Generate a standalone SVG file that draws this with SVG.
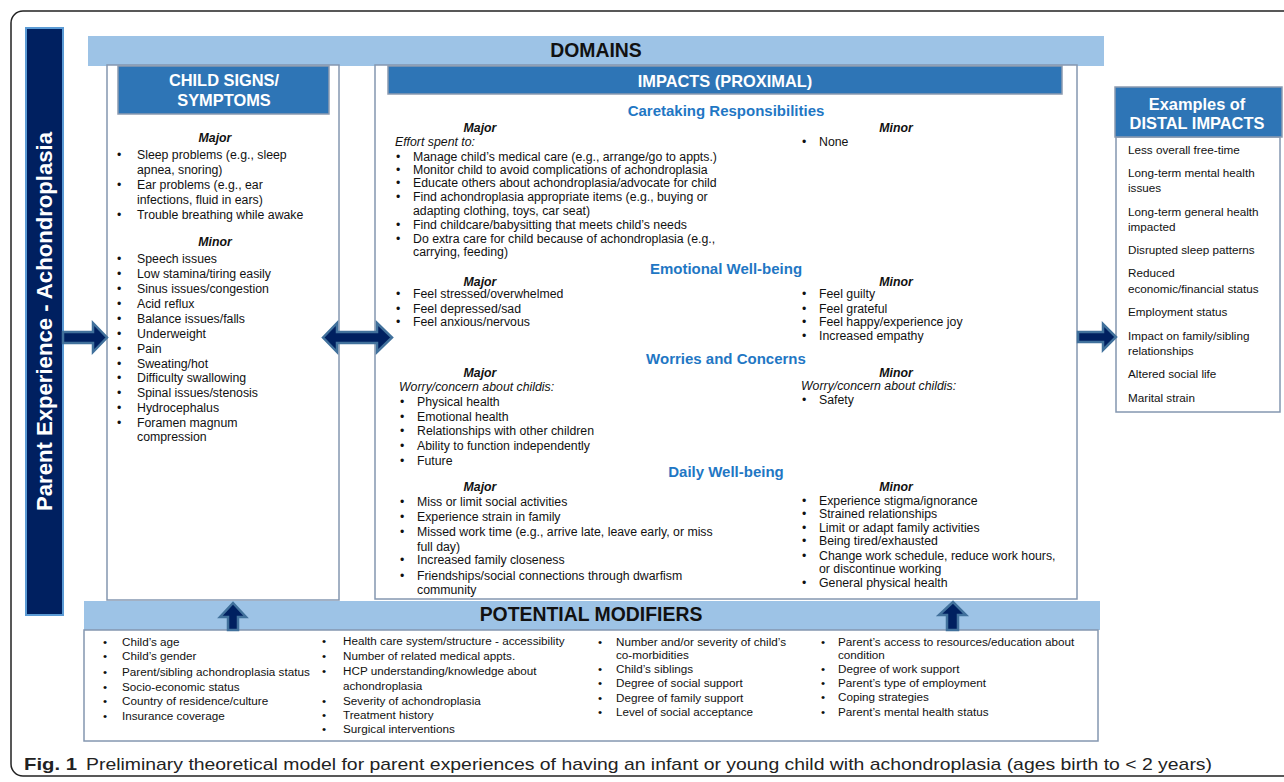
<svg xmlns="http://www.w3.org/2000/svg" width="1284" height="782" viewBox="0 0 1284 782">
<style>
text{font-family:"Liberation Sans",Arial,sans-serif;fill:#111}
.t{font-size:12.3px}
.s{font-size:11.7px}
.mj{font-size:12.3px;font-weight:bold;font-style:italic;text-anchor:middle}
.it{font-size:12.3px;font-style:italic}
.sec{font-size:15px;font-weight:bold;fill:#1f77c4;text-anchor:middle}
.hd{font-size:16.4px;font-weight:bold;fill:#fff;text-anchor:middle}
.big{font-size:19.4px;font-weight:bold;text-anchor:middle}
.box{fill:#fff;stroke:#8497b0;stroke-width:1.5}
.hbox{fill:#2e75b6;stroke:#8c9bb0;stroke-width:1.5}
.bar{fill:#9dc3e6}
.arr{fill:#002060;stroke:#41719c;stroke-width:2.5;stroke-linejoin:miter}
</style>
<rect width="1284" height="782" fill="#fff"/>
<path d="M1290 11 H23 A12 12 0 0 0 11 23 V764 A12 12 0 0 0 23 776 H1290" fill="none" stroke="#222" stroke-width="1.5"/>

<g id="parent-experience">
<rect x="26" y="28" width="37" height="587" fill="#002060" stroke="#5b9bd5" stroke-width="2"/>
<text transform="translate(52,321.5) rotate(-90)" text-anchor="middle" style="font-size:22px;font-weight:bold;fill:#fff" textLength="379" lengthAdjust="spacingAndGlyphs">Parent Experience - Achondroplasia</text>
</g>

<g id="domains">
<rect class="bar" x="88" y="36" width="1016" height="30"/>
<text class="big" x="596" y="57">DOMAINS</text>
</g>

<g id="child-signs">
<rect class="box" x="107" y="65" width="232" height="535"/>
<rect class="hbox" x="118" y="66" width="211" height="48"/>
<text class="hd" x="224" y="86">CHILD SIGNS/</text>
<text class="hd" x="224" y="106">SYMPTOMS</text>
<text class="mj" x="215" y="142">Major</text>
<g class="t">
<text x="117" y="159">•</text><text x="137" y="159">Sleep problems (e.g., sleep</text>
<text x="137" y="174">apnea, snoring)</text>
<text x="117" y="189">•</text><text x="137" y="189">Ear problems (e.g., ear</text>
<text x="137" y="204">infections, fluid in ears)</text>
<text x="117" y="219">•</text><text x="137" y="219">Trouble breathing while awake</text>
</g>
<text class="mj" x="215" y="246">Minor</text>
<g class="t">
<text x="117" y="263">•</text><text x="137" y="263">Speech issues</text>
<text x="117" y="278">•</text><text x="137" y="278">Low stamina/tiring easily</text>
<text x="117" y="293">•</text><text x="137" y="293">Sinus issues/congestion</text>
<text x="117" y="308">•</text><text x="137" y="308">Acid reflux</text>
<text x="117" y="323">•</text><text x="137" y="323">Balance issues/falls</text>
<text x="117" y="338">•</text><text x="137" y="338">Underweight</text>
<text x="117" y="353">•</text><text x="137" y="353">Pain</text>
<text x="117" y="368">•</text><text x="137" y="368">Sweating/hot</text>
<text x="117" y="382">•</text><text x="137" y="382">Difficulty swallowing</text>
<text x="117" y="397">•</text><text x="137" y="397">Spinal issues/stenosis</text>
<text x="117" y="412">•</text><text x="137" y="412">Hydrocephalus</text>
<text x="117" y="427">•</text><text x="137" y="427">Foramen magnum</text>
<text x="137" y="441">compression</text>
</g>
</g>

<g id="impacts-proximal">
<rect class="box" x="375" y="65" width="702" height="534"/>
<rect class="hbox" x="388" y="66" width="674" height="28"/>
<text class="hd" x="725" y="86.5">IMPACTS (PROXIMAL)</text>

<text class="sec" x="726" y="116">Caretaking Responsibilities</text>
<text class="mj" x="480" y="132">Major</text>
<text class="it" x="395" y="146">Effort spent to:</text>
<g class="t">
<text x="396" y="161">•</text><text x="413" y="161">Manage child’s medical care (e.g., arrange/go to appts.)</text>
<text x="396" y="174">•</text><text x="413" y="174">Monitor child to avoid complications of achondroplasia</text>
<text x="396" y="187">•</text><text x="413" y="187">Educate others about achondroplasia/advocate for child</text>
<text x="396" y="201">•</text><text x="413" y="201">Find achondroplasia appropriate items (e.g., buying or</text>
<text x="413" y="215">adapting clothing, toys, car seat)</text>
<text x="396" y="229">•</text><text x="413" y="229">Find childcare/babysitting that meets child’s needs</text>
<text x="396" y="243">•</text><text x="413" y="243">Do extra care for child because of achondroplasia (e.g.,</text>
<text x="413" y="256">carrying, feeding)</text>
</g>
<text class="mj" x="896" y="132">Minor</text>
<g class="t"><text x="802" y="146">•</text><text x="819" y="146">None</text></g>

<text class="sec" x="726" y="274">Emotional Well-being</text>
<text class="mj" x="480" y="286">Major</text>
<g class="t">
<text x="396" y="298">•</text><text x="413" y="298">Feel stressed/overwhelmed</text>
<text x="396" y="313">•</text><text x="413" y="313">Feel depressed/sad</text>
<text x="396" y="326">•</text><text x="413" y="326">Feel anxious/nervous</text>
</g>
<text class="mj" x="896" y="286">Minor</text>
<g class="t">
<text x="802" y="298">•</text><text x="819" y="298">Feel guilty</text>
<text x="802" y="313">•</text><text x="819" y="313">Feel grateful</text>
<text x="802" y="326">•</text><text x="819" y="326">Feel happy/experience joy</text>
<text x="802" y="340">•</text><text x="819" y="340">Increased empathy</text>
</g>

<text class="sec" x="726" y="364">Worries and Concerns</text>
<text class="mj" x="480" y="377">Major</text>
<text class="it" x="399" y="391">Worry/concern about childis:</text>
<g class="t">
<text x="400" y="406">•</text><text x="417" y="406">Physical health</text>
<text x="400" y="421">•</text><text x="417" y="421">Emotional health</text>
<text x="400" y="435">•</text><text x="417" y="435">Relationships with other children</text>
<text x="400" y="450">•</text><text x="417" y="450">Ability to function independently</text>
<text x="400" y="465">•</text><text x="417" y="465">Future</text>
</g>
<text class="mj" x="896" y="377">Minor</text>
<text class="it" x="801" y="390">Worry/concern about childis:</text>
<g class="t"><text x="802" y="404">•</text><text x="819" y="404">Safety</text></g>

<text class="sec" x="726" y="477">Daily Well-being</text>
<text class="mj" x="480" y="491">Major</text>
<g class="t">
<text x="400" y="506">•</text><text x="417" y="506">Miss or limit social activities</text>
<text x="400" y="521">•</text><text x="417" y="521">Experience strain in family</text>
<text x="400" y="536">•</text><text x="417" y="536">Missed work time (e.g., arrive late, leave early, or miss</text>
<text x="417" y="551">full day)</text>
<text x="400" y="564">•</text><text x="417" y="564">Increased family closeness</text>
<text x="400" y="580">•</text><text x="417" y="580">Friendships/social connections through dwarfism</text>
<text x="417" y="594">community</text>
</g>
<text class="mj" x="896" y="491">Minor</text>
<g class="t">
<text x="802" y="505">•</text><text x="819" y="505">Experience stigma/ignorance</text>
<text x="802" y="518">•</text><text x="819" y="518">Strained relationships</text>
<text x="802" y="532">•</text><text x="819" y="532">Limit or adapt family activities</text>
<text x="802" y="545">•</text><text x="819" y="545">Being tired/exhausted</text>
<text x="802" y="560">•</text><text x="819" y="560">Change work schedule, reduce work hours,</text>
<text x="819" y="573">or discontinue working</text>
<text x="802" y="587">•</text><text x="819" y="587">General physical health</text>
</g>
</g>

<g id="distal-impacts">
<rect class="box" x="1116" y="137" width="164" height="275"/>
<rect class="hbox" x="1115" y="87" width="167" height="50"/>
<text class="hd" x="1197" y="110">Examples of</text>
<text class="hd" x="1197" y="129">DISTAL IMPACTS</text>
<g class="s">
<text x="1128" y="154">Less overall free-time</text>
<text x="1128" y="177">Long-term mental health</text>
<text x="1128" y="192">issues</text>
<text x="1128" y="216">Long-term general health</text>
<text x="1128" y="231">impacted</text>
<text x="1128" y="254">Disrupted sleep patterns</text>
<text x="1128" y="277">Reduced</text>
<text x="1128" y="293">economic/financial status</text>
<text x="1128" y="316">Employment status</text>
<text x="1128" y="340">Impact on family/sibling</text>
<text x="1128" y="355">relationships</text>
<text x="1128" y="378">Altered social life</text>
<text x="1128" y="402">Marital strain</text>
</g>
</g>

<g id="potential-modifiers">
<rect class="bar" x="84" y="601" width="1016" height="29"/>
<text class="big" x="591" y="621">POTENTIAL MODIFIERS</text>
<rect class="box" x="84" y="630" width="1014" height="111"/>
<g class="s">
<text x="103" y="646">•</text><text x="122" y="646">Child’s age</text>
<text x="103" y="660">•</text><text x="122" y="660">Child’s gender</text>
<text x="103" y="676">•</text><text x="122" y="676">Parent/sibling achondroplasia status</text>
<text x="103" y="691">•</text><text x="122" y="691">Socio-economic status</text>
<text x="103" y="705">•</text><text x="122" y="705">Country of residence/culture</text>
<text x="103" y="720">•</text><text x="122" y="720">Insurance coverage</text>

<text x="322" y="645">•</text><text x="343" y="645">Health care system/structure - accessibility</text>
<text x="322" y="660">•</text><text x="343" y="660">Number of related medical appts.</text>
<text x="322" y="675">•</text><text x="343" y="675">HCP understanding/knowledge about</text>
<text x="343" y="690">achondroplasia</text>
<text x="322" y="705">•</text><text x="343" y="705">Severity of achondroplasia</text>
<text x="322" y="719">•</text><text x="343" y="719">Treatment history</text>
<text x="322" y="733">•</text><text x="343" y="733">Surgical interventions</text>

<text x="598" y="646">•</text><text x="616" y="646">Number and/or severity of child’s</text>
<text x="616" y="659">co-morbidities</text>
<text x="598" y="673">•</text><text x="616" y="673">Child’s siblings</text>
<text x="598" y="687">•</text><text x="616" y="687">Degree of social support</text>
<text x="598" y="702">•</text><text x="616" y="702">Degree of family support</text>
<text x="598" y="716">•</text><text x="616" y="716">Level of social acceptance</text>

<text x="821" y="646">•</text><text x="838" y="646">Parent’s access to resources/education about</text>
<text x="838" y="659">condition</text>
<text x="821" y="673">•</text><text x="838" y="673">Degree of work support</text>
<text x="821" y="687">•</text><text x="838" y="687">Parent’s type of employment</text>
<text x="821" y="701">•</text><text x="838" y="701">Coping strategies</text>
<text x="821" y="716">•</text><text x="838" y="716">Parent’s mental health status</text>
</g>
</g>

<g id="connectors">
<polygon class="arr" points="63,332 93,332 93,323 107,337.5 93,352 93,343 63,343"/>
<polygon class="arr" points="323,337.5 337,323 337,332 377,332 377,323 392,337.5 377,352 377,343 337,343 337,352"/>
<polygon class="arr" points="1078,332 1103,332 1103,324 1116,337 1103,350 1103,342 1078,342"/>
<polygon class="arr" points="228,630 228,617 220,617 233,603 246,617 238,617 238,630"/>
<polygon class="arr" points="947,630 947,615 939,615 953,602 966,615 958,615 958,630"/>
</g>

<g id="caption">
<text x="24" y="770" style="font-family:'Liberation Sans Narrow','Liberation Sans',sans-serif;font-size:17px;font-weight:bold;fill:#222" textLength="53" lengthAdjust="spacingAndGlyphs">Fig. 1</text>
<text x="86" y="770" style="font-family:'Liberation Sans Narrow','Liberation Sans',sans-serif;font-size:17px;fill:#222" textLength="1126" lengthAdjust="spacingAndGlyphs">Preliminary theoretical model for parent experiences of having an infant or young child with achondroplasia (ages birth to &lt; 2 years)</text>
</g>
</svg>
